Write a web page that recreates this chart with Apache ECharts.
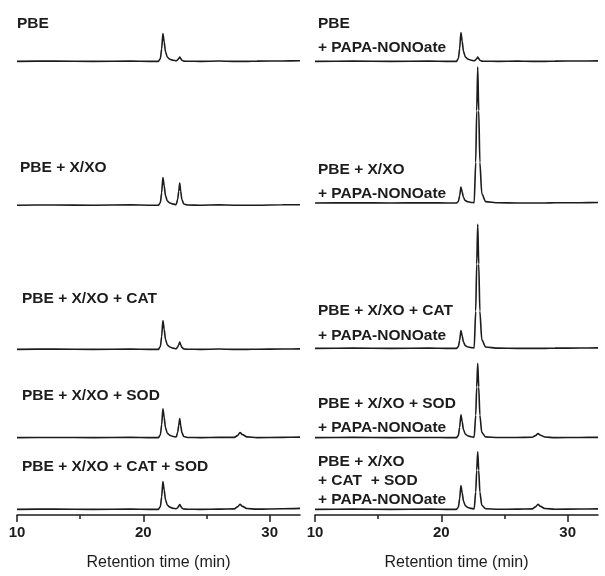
<!DOCTYPE html>
<html>
<head>
<meta charset="utf-8">
<script src="https://cdn.jsdelivr.net/npm/echarts@6/dist/echarts.min.js"></script>
<style>html,body{margin:0;padding:0;background:#fff;}#c{width:605px;height:576px;}</style>
</head>
<body>
<div id="c"></div>
<script>
// Retention times (min) at which each chromatogram was sampled
const times = [10, 13, 16, 19, 20.5, 21.2, 21.35, 21.45, 21.55, 21.65, 21.75, 21.9, 22.1, 22.35, 22.6, 22.72,
  22.8, 22.88, 22.96, 23.05, 23.2, 23.5, 24.5, 26, 27.2, 27.45, 27.65, 27.85, 28.2, 29, 31, 32.4];

// Detector response (arbitrary units), left panel
const leftPBE = [0, 0.3, 0, 0.2, 0, 0, 2.8, 12.6, 28, 19.6, 9.8, 4.2, 2.2, 1.1, 0.6, 1.5,
  2.9, 4.3, 2.8, 1.2, 0.2, 0.1, 0, 0.3, 0, 0, 0, 0, 0, 0.2, 0.4, 0.6];
const leftXXO = [0, 0.2, 0, 0.3, 0, 0, 2.8, 12.6, 28, 19.6, 9.8, 4.2, 2.2, 1.1, 0.6, 6,
  14, 22.3, 13.9, 5.7, 1.2, 0.2, 0, 0.3, 0, 0, 0, 0, 0, 0, 0.4, 0.5];
const leftXXOCAT = [0, 0.3, 0, 0.2, 0, 0, 2.9, 13, 29, 20.3, 10.2, 4.4, 2.3, 1.2, 0.6, 2.3,
  4.7, 7.3, 4.6, 2, 0.4, 0.1, 0, 0.3, 0, 0, 0, 0, 0, 0.1, 0.3, 0.5];
const leftXXOSOD = [0, 0.2, 0, 0.3, 0, 0, 2.9, 13, 29, 20.3, 10.2, 4.4, 2.3, 1.2, 0.6, 5.3,
  12.2, 19.3, 12.1, 5, 1.1, 0.2, 0, 0.3, 0.3, 2, 5, 3, 0.8, 0, 0.3, 0.5];
const leftXXOCATSOD = [0, 0.3, 0, 0.2, 0, 0, 2.8, 12.6, 28, 19.6, 9.8, 4.2, 2.2, 1.1, 0.6, 1.6,
  3.2, 4.8, 3.1, 1.3, 0.3, 0.1, 0, 0.2, 0.5, 2.5, 5, 3, 0.8, 0.2, 0.6, 1];

// Detector response (arbitrary units), right panel (+ PAPA-NONOate)
const rightPBE = [0, 0.2, 0, 0.3, 0, 0, 2.9, 13, 29, 20.3, 10.2, 4.4, 2.3, 1.2, 0.6, 1.5,
  2.9, 4.3, 2.8, 1.2, 0.2, 0.1, 0, 0.2, 0, 0, 0, 0, 0, 0.2, 0.4, 0.5];
const rightXXO = [0, 0.3, 0, 0.2, 0, 0, 1.6, 7.2, 16, 11.2, 5.6, 2.4, 1.3, 0.6, 0.3, 41,
  93, 137, 93, 41, 9.6, 1.4, 0.2, 0, 0, 0, 0, 0, 0, 0.2, 0.3, 0.5];
const rightXXOCAT = [0, 0.2, 0, 0.3, 0, 0, 1.8, 8.1, 18, 12.6, 6.3, 2.7, 1.4, 0.7, 0.4, 37.5,
  85, 125, 85, 37.5, 8.8, 1.3, 0.2, 0, 0, 0, 0, 0, 0, 0.2, 0.3, 0.5];
const rightXXOSOD = [0, 0.3, 0, 0.2, 0, 0, 2.3, 10.4, 23, 16.1, 8.1, 3.5, 1.8, 0.9, 0.5, 22.5,
  51, 75, 51, 22.5, 5.3, 0.8, 0.1, 0.2, 0.4, 2, 4, 2.4, 0.6, 0, 0.2, 0.3];
const rightXXOCATSOD = [0, 0.2, 0, 0.3, 0, 0, 2.4, 10.8, 24, 16.8, 8.4, 3.6, 1.9, 1, 0.5, 17.4,
  39.4, 58, 39.4, 17.4, 4.1, 0.6, 0.1, 0.2, 0.5, 2.5, 5, 3, 0.8, 0.1, 0.3, 0.5];

// Axis ticks
const majorTicks = [10, 20, 30];
const minorTicks = [15, 25];
const axisTitle = 'Retention time (min)';

// Trace labels (each entry = lines of text)
const leftLabels = [['PBE'], ['PBE + X/XO'], ['PBE + X/XO + CAT'], ['PBE + X/XO + SOD'], ['PBE + X/XO + CAT + SOD']];
const rightLabels = [['PBE', '+ PAPA-NONOate'], ['PBE + X/XO', '+ PAPA-NONOate'], ['PBE + X/XO + CAT', '+ PAPA-NONOate'],
  ['PBE + X/XO + SOD', '+ PAPA-NONOate'], ['PBE + X/XO', '+ CAT  + SOD', '+ PAPA-NONOate']];

// ---- layout (not data) ----
const leftTraces = [leftPBE, leftXXO, leftXXOCAT, leftXXOSOD, leftXXOCATSOD];
const rightTraces = [rightPBE, rightXXO, rightXXOCAT, rightXXOSOD, rightXXOCATSOD];
const leftOffsets = [457.3, 312.3, 167, 78, 5.7];
const rightOffsets = [457.3, 314.5, 168, 78, 5.7];
const leftLabelPos = [[17, [24]], [20, [168]], [22, [299]], [22, [396]], [22, [467]]];
const rightLabelPos = [[318, [24, 48]], [318, [170, 194]], [318, [311, 336]], [318, [404, 428]], [318, [462, 481, 500]]];

const ink = '#1c1c1c';
const chart = echarts.init(document.getElementById('c'), null, {renderer: 'canvas'});

function xAxes(gi) {
  return [{
    type: 'value', gridIndex: gi, min: 10, max: 32.4, position: 'bottom',
    axisLine: {lineStyle: {color: ink, width: 1.5}},
    axisTick: {customValues: majorTicks, length: 7, lineStyle: {color: ink, width: 1.5}},
    axisLabel: {customValues: majorTicks, fontSize: 15, fontWeight: 'bold', color: ink, margin: 10, fontFamily: 'Liberation Sans'},
    splitLine: {show: false},
    name: axisTitle, nameLocation: 'middle', nameGap: 40,
    nameTextStyle: {fontSize: 16, color: ink, fontFamily: 'Liberation Sans'}
  }, {
    type: 'value', gridIndex: gi, min: 10, max: 32.4, position: 'bottom',
    axisLine: {show: false},
    axisTick: {customValues: minorTicks, length: 4, lineStyle: {color: ink, width: 1.5}},
    axisLabel: {show: false}, splitLine: {show: false}
  }];
}

const series = [];
function addTraces(traces, offsets, xi, yi) {
  traces.forEach((vals, k) => {
    series.push({
      type: 'line', xAxisIndex: xi, yAxisIndex: yi, symbol: 'none', silent: true,
      smooth: 0.25, smoothMonotone: 'x', clip: false,
      lineStyle: {color: ink, width: 1.6},
      data: times.map((t, i) => [t, vals[i] + offsets[k]])
    });
  });
}
addTraces(leftTraces, leftOffsets, 0, 0);
addTraces(rightTraces, rightOffsets, 2, 1);

const graphics = [];
function addLabels(labels, pos) {
  labels.forEach((lines, k) => {
    lines.forEach((txt, j) => {
      graphics.push({
        type: 'text', x: pos[k][0], y: pos[k][1][j], silent: true,
        style: {text: txt, font: 'bold 15.5px "Liberation Sans", Arial, sans-serif', fill: ink, align: 'left', verticalAlign: 'middle'}
      });
    });
  });
}
addLabels(leftLabels, leftLabelPos);
addLabels(rightLabels, rightLabelPos);

chart.setOption({
  animation: false,
  backgroundColor: '#fff',
  grid: [
    {left: 17, right: 305, top: 20, bottom: 57},
    {left: 315, right: 7, top: 20, bottom: 57}
  ],
  xAxis: [...xAxes(0), ...xAxes(1)],
  yAxis: [
    {type: 'value', gridIndex: 0, min: 0, max: 499, show: false},
    {type: 'value', gridIndex: 1, min: 0, max: 499, show: false}
  ],
  series: series,
  graphic: graphics
});
</script>
</body>
</html>
